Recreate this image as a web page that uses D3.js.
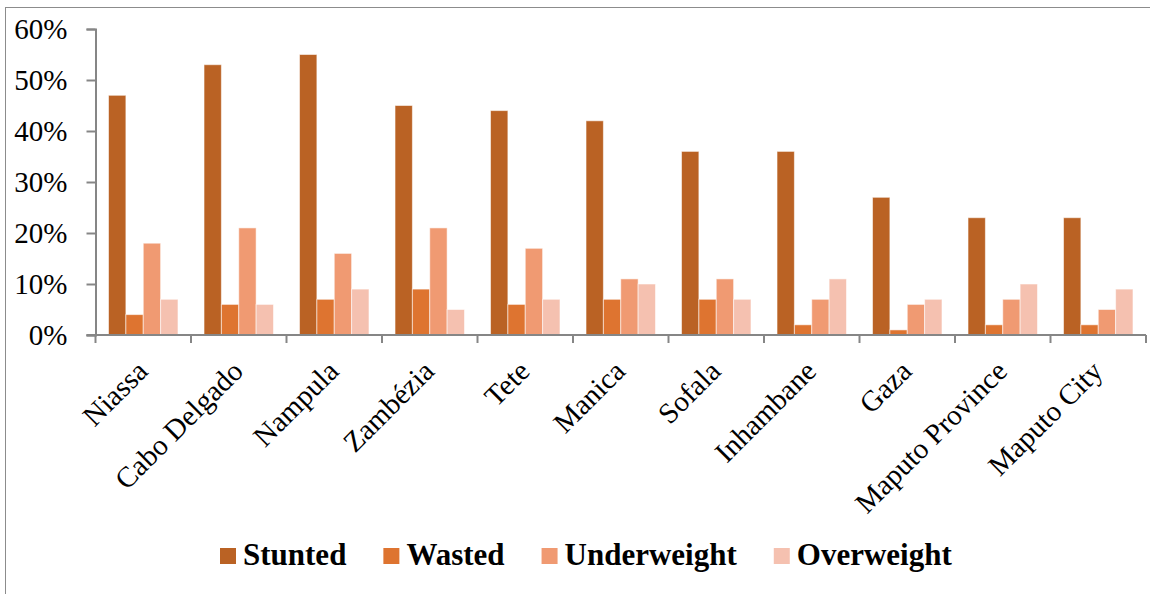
<!DOCTYPE html>
<html>
<head>
<meta charset="utf-8">
<script src="https://cdn.jsdelivr.net/npm/d3@7"></script>
<style>
  html, body { margin: 0; padding: 0; background: #fff; }
  svg { display: block; }
  text { font-family: "Liberation Serif", "Times New Roman", serif; fill: #000; }
</style>
</head>
<body>
<svg id="chart" width="1150" height="594"></svg>
<script>
const categories = ["Niassa", "Cabo Delgado", "Nampula", "Zambézia", "Tete", "Manica", "Sofala", "Inhambane", "Gaza", "Maputo Province", "Maputo City"];
const seriesNames = ["Stunted", "Wasted", "Underweight", "Overweight"];
const stunted     = [0.47, 0.53, 0.55, 0.45, 0.44, 0.42, 0.36, 0.36, 0.27, 0.23, 0.23];
const wasted      = [0.04, 0.06, 0.07, 0.09, 0.06, 0.07, 0.07, 0.02, 0.01, 0.02, 0.02];
const underweight = [0.18, 0.21, 0.16, 0.21, 0.17, 0.11, 0.11, 0.07, 0.06, 0.07, 0.05];
const overweight  = [0.07, 0.06, 0.09, 0.05, 0.07, 0.10, 0.07, 0.11, 0.07, 0.10, 0.09];
const yTicks = [0, 0.1, 0.2, 0.3, 0.4, 0.5, 0.6];
const colors = ["#BA6224", "#DE7430", "#F09A72", "#F5C1B0"];

(function () {
const seriesValues = [stunted, wasted, underweight, overweight];
const data = categories.map((c, i) => ({
  category: c,
  values: seriesNames.map((s, j) => ({ key: s, value: seriesValues[j][i] }))
}));

const svg = d3.select("#chart");

// outer chart border
svg.append("rect")
  .attr("x", 5.5).attr("y", 7.5)
  .attr("width", 1200).attr("height", 700)
  .attr("fill", "none").attr("stroke", "#8c8c8c").attr("stroke-width", 1);

const mLeft = 95.5, mRight = 1146, mTop = 29, mBottom = 335;

const x0 = d3.scaleBand().domain(categories).range([mLeft, mRight]).paddingInner(0).paddingOuter(0);
const x1 = d3.scaleBand().domain(seriesNames).range([0, x0.bandwidth()]).paddingInner(0).paddingOuter(0.75);
const y = d3.scaleLinear().domain([0, 0.6]).range([mBottom, mTop]);
const color = d3.scaleOrdinal().domain(seriesNames).range(colors);

// bars
const groups = svg.append("g").selectAll("g")
  .data(data).join("g")
  .attr("transform", d => `translate(${x0(d.category)},0)`);
groups.selectAll("rect")
  .data(d => d.values).join("rect")
  .attr("x", d => x1(d.key))
  .attr("y", d => y(d.value))
  .attr("width", x1.bandwidth())
  .attr("height", d => y(0) - y(d.value))
  .attr("fill", d => color(d.key))
  .attr("stroke", "rgba(255,255,255,0.55)")
  .attr("stroke-width", 1);

// y axis
const yAxis = d3.axisLeft(y).tickValues(yTicks).tickFormat(d3.format(".0%")).tickSize(9).tickPadding(19);
const yg = svg.append("g").attr("transform", `translate(${mLeft},0)`).call(yAxis);
yg.select(".domain").attr("stroke", "#868686").attr("stroke-width", 2);
yg.selectAll(".tick line").attr("stroke", "#868686").attr("stroke-width", 2);
yg.selectAll(".tick text")
  .style("font-family", '"Liberation Serif", serif')
  .style("font-size", "29px")
  .attr("fill", "#000")
  .attr("dy", "0.34em");

// x axis line
svg.append("line")
  .attr("x1", mLeft - 9).attr("x2", mRight)
  .attr("y1", mBottom).attr("y2", mBottom)
  .attr("stroke", "#868686").attr("stroke-width", 2);

// category boundary ticks
const boundaries = categories.map(c => x0(c)).concat([mRight]);
svg.append("g").selectAll("line")
  .data(boundaries).join("line")
  .attr("x1", d => d).attr("x2", d => d)
  .attr("y1", mBottom).attr("y2", mBottom + 8)
  .attr("stroke", "#868686").attr("stroke-width", 2);

// category labels
svg.append("g").selectAll("text")
  .data(categories).join("text")
  .attr("transform", d => `translate(${x0(d) + x0.bandwidth() / 2 + 6},${mBottom + 38}) rotate(-45)`)
  .attr("text-anchor", "end")
  .style("font-size", "29px")
  .text(d => d);

// legend
const legend = svg.append("g");
let lx = 220;
seriesNames.forEach((s, i) => {
  legend.append("rect")
    .attr("x", lx).attr("y", 548)
    .attr("width", 16).attr("height", 16)
    .attr("fill", colors[i]);
  const t = legend.append("text")
    .attr("x", lx + 23).attr("y", 565)
    .style("font-size", "31px")
    .style("font-weight", "bold")
    .text(s);
  lx += 23 + t.node().getComputedTextLength() + 37;
});
})();
</script>
</body>
</html>
